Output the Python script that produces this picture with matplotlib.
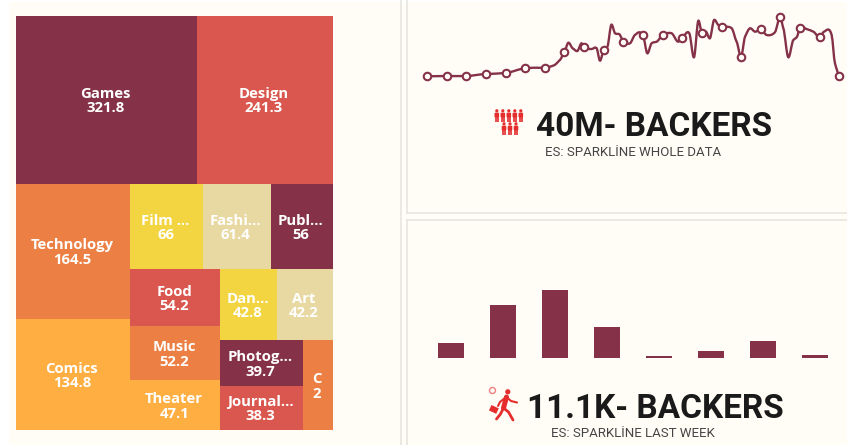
import numpy as np
import matplotlib
matplotlib.use('Agg')
import matplotlib.pyplot as plt
from matplotlib.patches import Rectangle, Circle, FancyBboxPatch, PathPatch
from matplotlib.path import Path

W, H = 847, 445

# --- treemap values ---
names = ['Games', 'Design', 'Technology', 'Comics', 'Film', 'Fashion', 'Publishing', 'Food',
         'Music', 'Theater', 'Dance', 'Art', 'Photography', 'Journalism', 'Crafts']
shown = ['Games', 'Design', 'Technology', 'Comics', 'Film ...', 'Fashi...', 'Publ...', 'Food',
         'Music', 'Theater', 'Dan...', 'Art', 'Photog...', 'Journal...', 'C']
values = [321.8, 241.3, 164.5, 134.8, 66, 61.4, 56, 54.2, 52.2, 47.1, 42.8, 42.2, 39.7, 38.3, 28.3]
value_text = ['321.8', '241.3', '164.5', '134.8', '66', '61.4', '56', '54.2', '52.2', '47.1',
              '42.8', '42.2', '39.7', '38.3', '2']
palette = ['#853249', '#D9574E', '#EC8044', '#FFAE42', '#F2D541', '#E8D9A3']

# --- sparkline, whole data ---
spark_t = [0, 1, 2, 3, 4, 5, 5.5, 6, 6.47, 6.77, 7, 7.2, 7.42, 7.66, 7.88, 8, 8.39, 8.64, 8.81, 9,
           9.19, 9.39, 9.58, 9.8, 10, 10.34, 10.59, 10.81, 11, 11.22, 11.44, 11.7, 12, 12.46, 12.8, 13,
           13.36, 13.6, 13.82, 14, 14.21, 14.41, 14.62, 14.84, 15, 15.26, 15.52, 15.77, 16, 16.2,
           16.45, 16.71, 17, 17.3, 17.72, 18, 18.15, 18.4, 18.66, 18.83, 19, 19.37, 19.68, 20, 20.22,
           20.61, 20.78, 21]
spark_v = [3.7, 4, 4, 6, 7, 11.7, 12.3, 12.3, 14.7, 20, 28.3, 37.3, 31.7, 29, 36.7, 32.7, 31, 31.7, 19.3, 30,
           33.3, 55.3, 46.7, 45.7, 38.3, 36.7, 45, 47.7, 45, 26.7, 36.7, 38.3, 45, 46.7, 38.3, 42.3,
           46.7, 22.7, 59.3, 47.3, 48.3, 41.7, 60, 55, 53.3, 53.3, 51.7, 38.3, 23.3, 43.3,
           51.7, 48.3, 50.7, 45, 47.7, 62.7, 51.7, 22.7, 40, 42.7, 52.3, 50.7, 48.3, 42.7, 48.3,
           45, 16.7, 3.7]

# --- bars, last week ---
days = list(range(8))
day_backers = [873, 2963, 3797, 1762, 150, 389, 962, 206]

big_1 = '40M- BACKERS'
sub_1 = 'ES: SPARKLİNE WHOLE DATA'
big_2 = '11.1K- BACKERS'
sub_2 = 'ES: SPARKLİNE LAST WEEK'

MAROON = '#853249'
CREAM = '#FFFDF6'
RED = '#E52D2D'


def px_axes(x, y, w, h, **kw):
    # axes box given in picture pixels, y measured from the top
    ax = fig.add_axes([x / W, 1 - (y + h) / H, w / W, h / H], **kw)
    ax.axis('off')
    return ax


def total(node):
    if isinstance(node, int):
        return values[node]
    return sum(total(n) for n in node)


def layout(node, x, y, w, h, horizontal, out):
    # slice and dice: each nesting level flips the direction
    if isinstance(node, int):
        out[node] = (x, y, w, h)
        return
    tot = total(node)
    for child in node:
        f = total(child) / tot
        if horizontal:
            layout(child, x, y, w * f, h, False, out)
            x += w * f
        else:
            layout(child, x, y, w, h * f, True, out)
            y += h * f


def smooth_path(xs, ys):
    # curve through the points, the tangent eased so peaks do not overshoot much
    xs, ys = np.asarray(xs, float), np.asarray(ys, float)
    slope = np.gradient(ys, xs)
    verts = [(xs[0], ys[0])]
    codes = [Path.MOVETO]
    for i in range(len(xs) - 1):
        d = (xs[i + 1] - xs[i]) / 3
        verts += [(xs[i] + d, ys[i] + slope[i] * d * 0.6),
                  (xs[i + 1] - d, ys[i + 1] - slope[i + 1] * d * 0.6),
                  (xs[i + 1], ys[i + 1])]
        codes += [Path.CURVE4] * 3
    return Path(verts, codes)


fig = plt.figure(figsize=(W / 100, H / 100), dpi=100, facecolor='white')

# panels and dividers, in pixels
bg = px_axes(0, 0, W, H)
bg.set_xlim(0, W)
bg.set_ylim(H, 0)
bg.add_patch(Rectangle((9, 2), W - 9, H - 2, fc=CREAM, ec='none'))
line_c = '#E4E4DE'
bg.plot([400.5, 400.5], [0, H], color=line_c, lw=1.1)
bg.plot([406.5, 406.5], [0, 213], color=line_c, lw=1.1)
bg.plot([406.5, 406.5], [219.5, H], color=line_c, lw=1.1)
bg.plot([406.5, W], [213, 213], color=line_c, lw=1.1)
bg.plot([406.5, W], [219.5, 219.5], color=line_c, lw=1.1)

# people icon
for cx, cy in [(x, 114) for x in (496.8, 502.8, 508.8, 514.8, 520.8)] + [(x, 127) for x in (504, 510, 516)]:
    bg.add_patch(Circle((cx, cy - 3.2), 1.6, fc=RED, ec='none'))
    bg.add_patch(FancyBboxPatch((cx - 2.3, cy - 1.4), 4.6, 5, boxstyle='round,pad=0,rounding_size=1.2', fc=RED, ec='none'))
    bg.plot([cx - 1, cx - 1], [cy + 3, cy + 8], color=RED, lw=1.2, solid_capstyle='butt')
    bg.plot([cx + 1, cx + 1], [cy + 3, cy + 8], color=RED, lw=1.2, solid_capstyle='butt')

# runner icon
bg.add_patch(Circle((507.8, 391.8), 2.6, fc=RED, ec='none'))
bg.plot([506.5, 503.5], [397, 408], color=RED, lw=3.6, solid_capstyle='round')
bg.plot([503.5, 508.5, 513], [408, 412, 420], color=RED, lw=2, solid_capstyle='round')
bg.plot([503.5, 500.5, 496.5], [408, 414, 419], color=RED, lw=2, solid_capstyle='round')
bg.plot([506.5, 511, 517], [397, 401, 402.5], color=RED, lw=1.5, solid_capstyle='round')
bg.plot([505, 500, 498], [398, 402, 406], color=RED, lw=1.5, solid_capstyle='round')
bg.add_patch(Rectangle((491.5, 405), 8, 6, angle=25, fc=RED, ec='none'))
bg.add_patch(Circle((492.5, 390.5), 3, fc='none', ec='#F08080', lw=1))

bg.text(654.5, 127.5, big_1, family='Roboto', fontweight='bold', fontsize=24, color='#1A1A1A', ha='center', va='center')
bg.text(633, 152, sub_1, family='Roboto', fontsize=9.5, color='#454545', ha='center', va='center')
bg.text(655, 409.5, big_2, family='Roboto', fontweight='bold', fontsize=24, color='#1A1A1A', ha='center', va='center')
bg.text(633, 433.5, sub_2, family='Roboto', fontsize=9.5, color='#454545', ha='center', va='center')

# treemap
tm = px_axes(15.5, 16, 317, 413.7)
tm.set_xlim(0, 1)
tm.set_ylim(1, 0)
tree = [[0, 1],
        [[2, 3],
         [[4, 5, 6],
          [[7, 8, 9],
           [[10, 11],
            [[12, 13], 14]]]]]]
cells = {}
layout(tree, 0, 0, 1, 1, False, cells)
for i in range(len(values)):
    x, y, w, h = cells[i]
    tm.add_patch(Rectangle((x, y), w, h, fc=palette[i % 6], ec='none'))
    cx, cy = x + w / 2 - 1 / 317, y + h / 2 + 1.5 / 413.7
    dy = 7.2 / 413.7
    tm.text(cx, cy - dy, shown[i], family='Open Sans', fontweight='bold', fontsize=10.7, color='white', ha='center', va='center')
    tm.text(cx, cy + dy, value_text[i], family='Open Sans', fontweight='bold', fontsize=10.7, color='white', ha='center', va='center')

# sparkline
sp = px_axes(427, 0, 412.3, 80)
sp.set_xlim(0, 21)
sp.set_ylim(0, 80)
sp.add_patch(PathPatch(smooth_path(spark_t, spark_v), fc='none', ec=MAROON, lw=1.7, joinstyle='round', clip_on=False))
marks = [i for i, v in enumerate(spark_t) if v == int(v)]
sp.plot(np.array(spark_t)[marks], np.array(spark_v)[marks], ls='none', marker='o',
        ms=5.4, mfc=CREAM, mec=MAROON, mew=1.5, clip_on=False)

# bars
ba = px_axes(425.2, 258.3, 416, 100)
ba.set_xlim(-0.5, 7.5)
ba.set_ylim(0, 5560)
ba.bar(days, day_backers, width=0.506, color=MAROON)

fig.savefig('out.png', dpi=100)
